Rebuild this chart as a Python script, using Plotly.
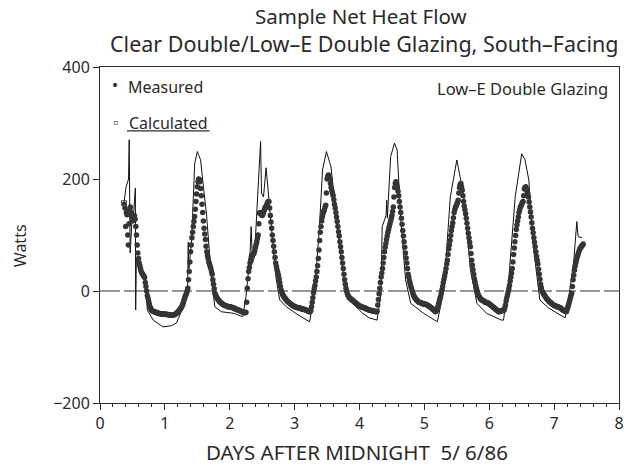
import plotly.graph_objects as go

# ---------------- data ----------------
# Measured: quarter-hourly values per day (index = quarter hour of the day)
meas_day0_start = 36          # day 0 starts at 9:00 (quarter-hour index)
meas_day0 = [155, 148, 115, 140, 136, 100, 82, 120, 145, 150, 140, 132,
             125, 128, 130, 135, 128, 115, 100, 82, 68, 58, 50, 45,
             40, 35, 32, 30, 28, 26, 24, 15, 8, 0, -8, -13,
             -18, -23, -28, -31, -34, -35, -36, -36, -37, -37, -38, -38,
             -39, -39, -40, -40, -40, -40, -41, -41, -41, -41, -41, -41]
meas_day1 = [-41, -41, -42, -42, -42, -42, -43, -43, -43, -43, -43, -43,
             -43, -43, -42, -42, -41, -40, -39, -38, -36, -35, -33, -32,
             -30, -28, -25, -22, -18, -14, -10, -7, -4, 0, 5, 20,
             35, 52, 70, 82, 95, 105, 115, 124, 133, 146, 160, 173,
             186, 195, 200, 199, 195, 183, 170, 155, 140, 125, 112, 102,
             92, 80, 70, 63, 58, 52, 48, 44, 40, 35, 30, 20,
             12, 4, -4, -7, -10, -12, -14, -16, -17, -19, -20, -21,
             -22, -23, -24, -25, -25, -26, -26, -27, -27, -28, -28, -28]
meas_day2 = [-28, -28, -29, -29, -30, -30, -31, -31, -32, -32, -33, -33,
             -34, -34, -35, -35, -36, -36, -37, -37, -38, -38, -39, -39,
             -38, -20, 5, 22, 35, 42, 50, 56, 62, 64, 65, 66,
             68, 72, 78, 83, 88, 94, 100, 120, 139, 140, 138, 136,
             135, 137, 140, 144, 148, 150, 152, 155, 158, 160, 160, 148,
             135, 123, 112, 100, 90, 80, 70, 60, 50, 44, 38, 33,
             28, 22, 15, 8, 2, -2, -6, -8, -10, -12, -13, -15,
             -16, -18, -19, -20, -21, -22, -23, -24, -25, -26, -27, -27]
meas_day3 = [-28, -28, -29, -29, -30, -30, -30, -30, -31, -31, -32, -32,
             -32, -32, -33, -33, -34, -34, -35, -35, -36, -36, -37, -37,
             -35, -28, -20, -12, -3, 4, 10, 18, 25, 35, 45, 58,
             73, 90, 105, 115, 125, 132, 138, 142, 145, 150, 153, 175,
             200, 204, 207, 204, 200, 192, 185, 180, 175, 170, 163, 155,
             148, 140, 132, 124, 115, 106, 98, 88, 79, 70, 60, 50,
             40, 30, 20, 12, 5, 0, -5, -8, -10, -12, -13, -14,
             -15, -16, -17, -18, -19, -20, -21, -22, -23, -24, -25, -26]
meas_day4 = [-27, -27, -28, -28, -29, -29, -30, -30, -31, -31, -32, -32,
             -33, -33, -34, -34, -35, -35, -35, -35, -36, -36, -36, -36,
             -37, -37, -36, -25, -15, -5, 5, 15, 25, 32, 40, 50,
             60, 70, 78, 85, 92, 98, 105, 110, 115, 120, 125, 130,
             135, 142, 150, 168, 185, 192, 195, 190, 185, 178, 170, 160,
             150, 140, 130, 119, 108, 98, 88, 78, 68, 59, 50, 40,
             30, 24, 18, 13, 8, 4, 0, -4, -8, -10, -12, -14,
             -15, -17, -18, -19, -20, -20, -21, -21, -22, -22, -23, -23]
meas_day5 = [-23, -23, -24, -24, -25, -26, -27, -27, -28, -29, -30, -31,
             -32, -33, -34, -35, -37, -36, -35, -32, -28, -23, -18, -14,
             -10, -4, 2, 8, 15, 21, 27, 33, 40, 48, 55, 65,
             75, 82, 90, 99, 108, 115, 122, 131, 140, 145, 150, 152,
             155, 158, 162, 175, 185, 190, 192, 186, 180, 170, 160, 152,
             145, 138, 130, 121, 112, 103, 95, 87, 79, 67, 55, 46,
             38, 30, 22, 16, 10, 5, 0, -4, -8, -10, -12, -14,
             -15, -16, -17, -17, -18, -19, -20, -20, -21, -21, -22, -22]
meas_day6 = [-23, -24, -25, -26, -27, -28, -29, -30, -31, -32, -33, -34,
             -35, -36, -37, -37, -36, -36, -35, -35, -35, -35, -34, -30,
             -25, -18, -12, -7, -2, 4, 10, 18, 25, 32, 40, 52,
             65, 77, 88, 99, 110, 118, 125, 132, 140, 145, 150, 152,
             155, 158, 160, 170, 182, 185, 186, 182, 178, 173, 168, 159,
             150, 141, 132, 122, 112, 104, 95, 87, 79, 70, 62, 55,
             48, 39, 30, 21, 12, 6, 0, -2, -5, -6, -8, -10,
             -12, -14, -15, -16, -18, -19, -20, -21, -22, -23, -24, -25]
meas_day7 = [-26, -26, -27, -27, -28, -28, -28, -29, -30, -30, -31, -32,
             -33, -34, -35, -35, -36, -36, -37, -34, -30, -26, -22, -17,
             -12, -8, -4, 8, 20, 28, 37, 44, 50, 55, 60, 64,
             68, 72, 75, 77, 79, 80, 82, 84]

# Calculated: (day, watts) points along the thin line
calc_x = [0.37, 0.40, 0.44, 0.45, 0.465, 0.49, 0.52, 0.545, 0.55, 0.56, 0.60, 0.66, 0.70,
          0.73, 0.82, 0.97, 1.10, 1.18, 1.28, 1.35, 1.36, 1.37, 1.41, 1.46, 1.50, 1.55,
          1.60, 1.64, 1.72, 1.77, 1.87, 2.07, 2.20, 2.25, 2.31, 2.33, 2.35, 2.38, 2.43,
          2.475, 2.49, 2.52, 2.56, 2.60, 2.71, 2.77, 2.87, 3.02, 3.23, 3.30, 3.38, 3.43,
          3.49, 3.56, 3.66, 3.76, 3.84, 4.05, 4.15, 4.27, 4.33, 4.35, 4.41, 4.42, 4.43,
          4.48, 4.54, 4.58, 4.63, 4.71, 4.79, 4.99, 5.20, 5.30, 5.40, 5.50, 5.61, 5.71,
          5.81, 5.96, 6.19, 6.22, 6.30, 6.40, 6.50, 6.55, 6.61, 6.68, 6.78, 6.91, 7.17,
          7.22, 7.30, 7.35, 7.37, 7.43]
calc_y = [157, 185, 200, 270, 68, 120, 140, 184, -34, 60, 35, 25, 15,
          -34, -52, -64, -62, -57, -29, 2, 87, 40, 86, 228, 249, 234,
          180, 139, 20, -28, -37, -40, -46, -10, 60, 115, 50, 60, 168,
          267, 175, 168, 220, 170, 26, -16, -28, -40, -55, -10, 109, 216,
          249, 222, 109, 20, -16, -40, -48, -52, -6, 115, 135, 162, 130,
          240, 264, 252, 139, 20, -22, -40, -55, 2, 168, 234, 168, 37,
          -22, -40, -52, -52, 20, 168, 245, 235, 198, 79, -16, -30, -48,
          -16, 50, 124, 97, 95]

x_ticks = [0, 1, 2, 3, 4, 5, 6, 7, 8]
y_ticks = [-200, 0, 200, 400]

# ---------------- build measured series ----------------
meas_x, meas_y = [], []
days = [meas_day0, meas_day1, meas_day2, meas_day3, meas_day4, meas_day5, meas_day6, meas_day7]
for d, vals in enumerate(days):
    start = meas_day0_start if d == 0 else 0
    for i, v in enumerate(vals):
        meas_x.append(d + (start + i) / 96.0)
        meas_y.append(v)

FONT = "Noto Sans"
INK = "#2a2a2a"

fig = go.Figure()
fig.add_trace(go.Scatter(x=calc_x, y=calc_y, mode="lines",
                         line=dict(color="#111111", width=1), showlegend=False))
fig.add_trace(go.Scatter(x=meas_x, y=meas_y, mode="markers",
                         marker=dict(color="#353535", size=5.5), showlegend=False))
fig.add_trace(go.Scatter(x=calc_x[:1], y=calc_y[:1], mode="markers",
                         marker=dict(symbol="square-open", color="#555", size=5),
                         showlegend=False))

fig.update_layout(
    width=636, height=467,
    margin=dict(l=100, r=15, t=67, b=64),
    paper_bgcolor="white", plot_bgcolor="white",
    font=dict(family=FONT, color=INK, size=16),
    xaxis=dict(range=[0, 8], tickvals=x_ticks, ticks="outside", ticklen=6,
               tickcolor=INK, showline=True, linecolor=INK, linewidth=1, mirror=True,
               showgrid=False, zeroline=False, tickfont=dict(size=16),
               minor=dict(dtick=0.2, ticks="outside", ticklen=3, tickcolor=INK)),
    yaxis=dict(range=[-200, 400], tickvals=y_ticks, ticks="outside", ticklen=6,
               tickcolor=INK, showline=True, linecolor=INK, linewidth=1, mirror=True,
               showgrid=False, zeroline=False, tickfont=dict(size=16)),
    shapes=[
        dict(type="line", xref="paper", yref="y", x0=0, x1=1, y0=0, y1=0,
             line=dict(color="#333", width=1, dash="20px,4px")),
        dict(type="line", xref="paper", yref="paper", x0=0.052, x1=0.211,
             y0=0.810, y1=0.810, line=dict(color=INK, width=1.3)),
    ],
    annotations=[
        dict(text="Sample Net Heat Flow", xref="paper", yref="paper", x=0.503, y=1.1518,
             showarrow=False, font=dict(size=20.5), xanchor="center", yanchor="middle"),
        dict(text="Clear Double/Low\u2013E Double Glazing, South\u2013Facing", xref="paper",
             yref="paper", x=0.509, y=1.0714, showarrow=False, font=dict(size=21.5),
             xanchor="center", yanchor="middle"),
        dict(text="DAYS AFTER MIDNIGHT  5/ 6/86", xref="paper", yref="paper", x=0.495,
             y=-0.146, showarrow=False, font=dict(size=20.5), xanchor="center",
             yanchor="middle"),
        dict(text="Watts", xref="paper", yref="paper", x=-0.154, y=0.467, textangle=-90,
             showarrow=False, font=dict(size=16), xanchor="center", yanchor="middle"),
        dict(text="\u2022", xref="paper", yref="paper", x=0.029, y=0.945, showarrow=False,
             font=dict(size=16), xanchor="center", yanchor="middle"),
        dict(text="Measured", xref="paper", yref="paper", x=0.05, y=0.940, showarrow=False,
             font=dict(size=16), xanchor="left", yanchor="middle"),
        dict(text="\u25ab", xref="paper", yref="paper", x=0.029, y=0.838, showarrow=False,
             font=dict(size=14), xanchor="center", yanchor="middle"),
        dict(text="Calculated", xref="paper", yref="paper", x=0.052, y=0.833,
             showarrow=False, font=dict(size=16), xanchor="left", yanchor="middle"),
        dict(text="Low\u2013E Double Glazing", xref="paper", yref="paper", x=0.983, y=0.935,
             showarrow=False, font=dict(size=16.5), xanchor="right", yanchor="middle"),
    ],
)

fig.write_html("out.html")
